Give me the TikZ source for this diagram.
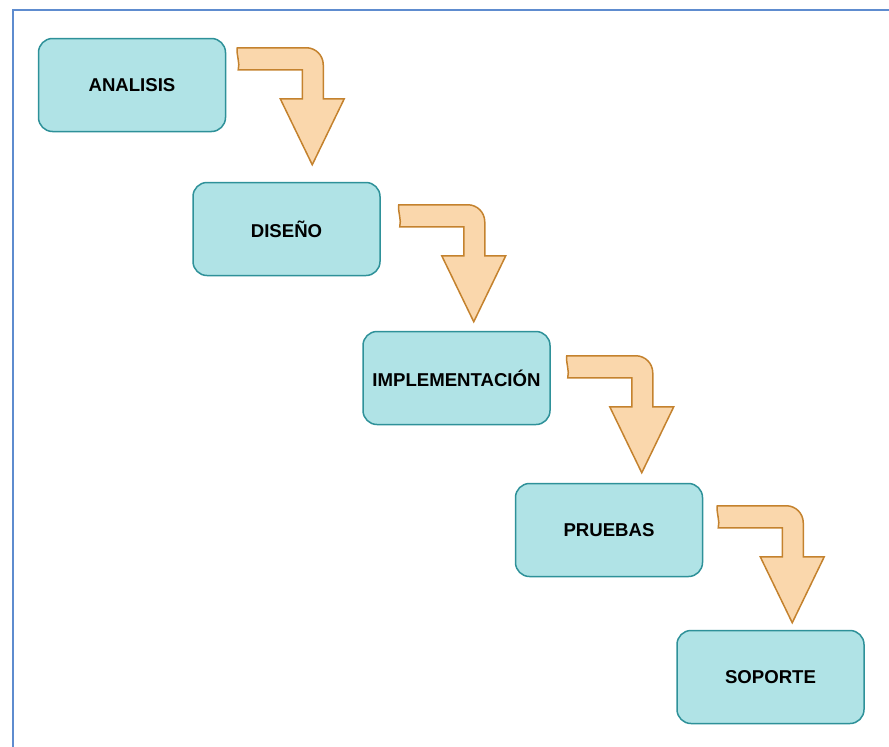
\documentclass[tikz,border=0pt]{standalone}
\usepackage{fontspec}
\setmainfont{Liberation Sans}
\definecolor{boxfill}{HTML}{B0E3E6}
\definecolor{boxline}{HTML}{2E9199}
\definecolor{arrowfill}{HTML}{FAD7AC}
\definecolor{arrowline}{HTML}{C4822E}
\definecolor{frameline}{HTML}{5E8CCF}

\begin{document}
\begin{tikzpicture}[
  x=1pt,y=-1pt,
  phase/.style={rectangle,rounded corners=14pt,draw=boxline,fill=boxfill,line width=1.5pt,
    minimum width=187pt,minimum height=93pt,font=\fontsize{18.6}{21}\selectfont\bfseries},
  bentarrow/.pic={
    \draw[draw=arrowline,fill=arrowfill,line width=1.5pt,line join=miter]
      (0,0) -- (69,0) .. controls (78.4,0) and (86,7.6) .. (86,17)
      -- (86,51) -- (107,51) -- (75,117) -- (43,51) -- (65,51) -- (65,22) -- (1,22)
      .. controls (3,15) and (-1,8) .. (0,0) -- cycle;
  }
]
  \useasboundingbox (0,0) rectangle (889,747);
  \draw[frameline,line width=2pt] (12.5,747) -- (12.5,10) -- (889,10);
  \node[phase](analisis) at (132,85){ANALISIS};
  \node[phase](diseno) at (286.5,229){DISEÑO};
  \node[phase](implementacion) at (456.5,378){IMPLEMENTACIÓN};
  \node[phase](pruebas) at (609,530){PRUEBAS};
  \node[phase](soporte) at (770.5,677){SOPORTE};
  \pic at ([shift={(11,10)}]analisis.north east) {bentarrow};
  \pic at ([shift={(18,23)}]diseno.north east) {bentarrow};
  \pic at ([shift={(16,25)}]implementacion.north east) {bentarrow};
  \pic at ([shift={(14,23)}]pruebas.north east) {bentarrow};
\end{tikzpicture}
\end{document}
